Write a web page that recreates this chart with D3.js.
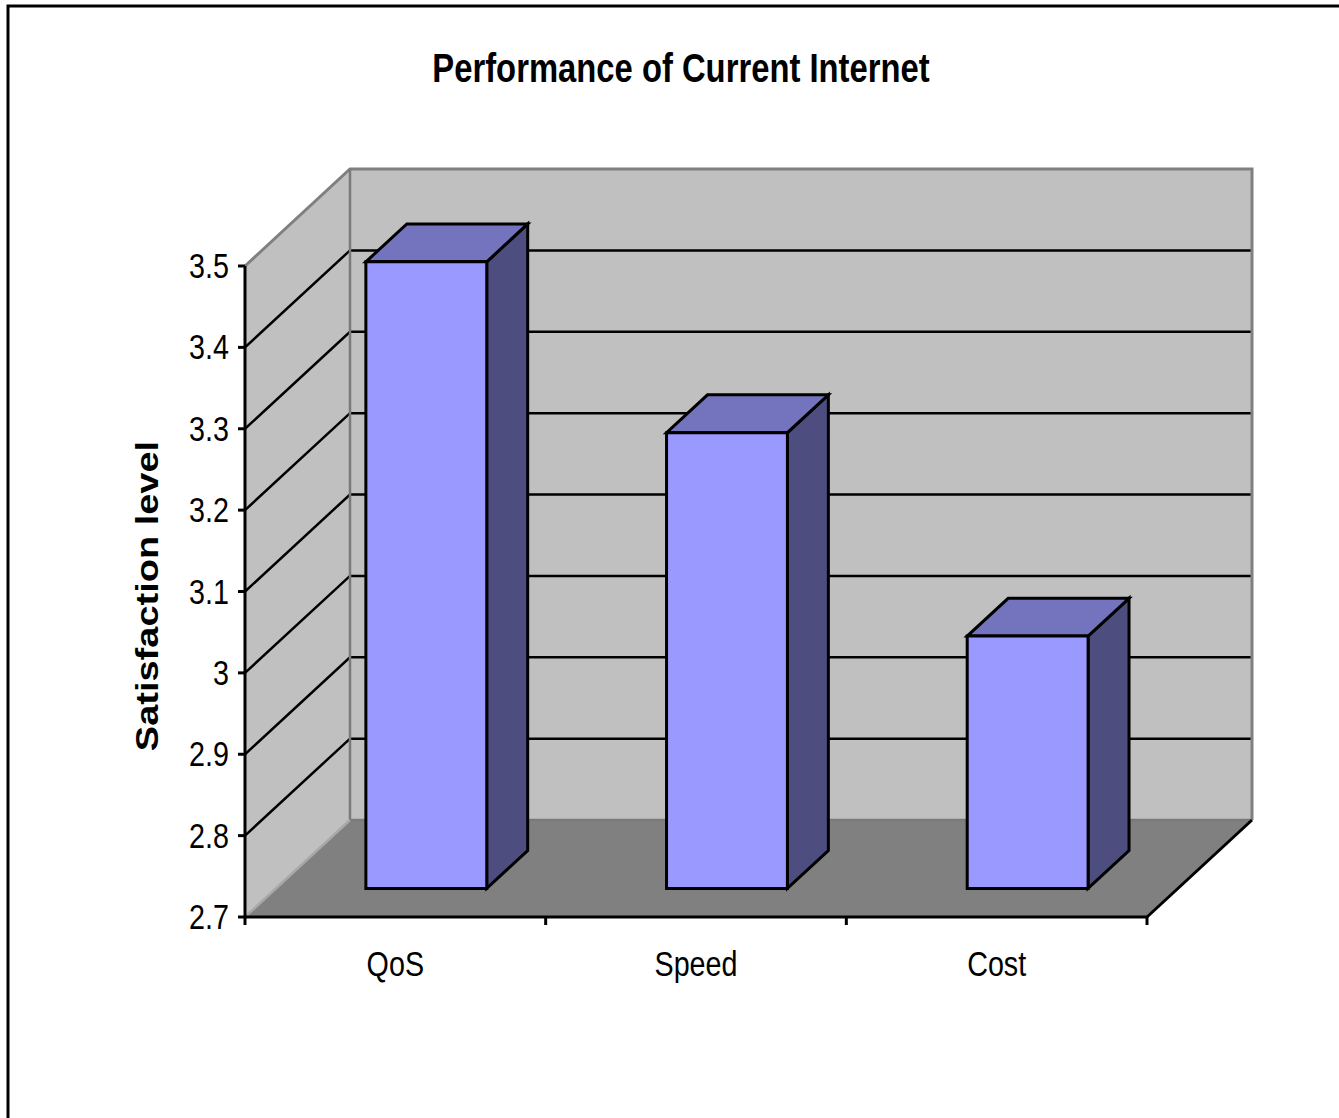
<!DOCTYPE html>
<html>
<head>
<meta charset="utf-8">
<script src="https://cdn.jsdelivr.net/npm/d3@7/dist/d3.min.js"></script>
<style>
  html, body { margin: 0; padding: 0; background: #fff; }
  svg { display: block; }
  text { font-family: "Liberation Sans", Arial, sans-serif; fill: #000; }
</style>
</head>
<body>
<svg id="chart" width="1339" height="1118"></svg>
<script>
// Survey results: mean satisfaction level per aspect of the current Internet
const categories = ["QoS", "Speed", "Cost"];
const values = [3.47, 3.26, 3.01];
const tickValues = [2.7, 2.8, 2.9, 3.0, 3.1, 3.2, 3.3, 3.4, 3.5];
const tickLabels = ["2.7", "2.8", "2.9", "3", "3.1", "3.2", "3.3", "3.4", "3.5"];
const titleText = "Performance of Current Internet";
const yTitleText = "Satisfaction level";

(function () {
  const W = 1339, H = 1118;
  const svg = d3.select("#chart");

  // Horizontal squeeze applied to all text (condensed look)
  const SQ = 0.82;

  // Front plane of the 3-D plot box
  const plotLeft = 245, plotRight = 1147, plotBottom = 917, plotTop = 266;
  // Depth vector of the box (from front plane to back wall)
  const DX = 105, DY = 97;
  // Depth positions of bar front / back faces (fractions of box depth)
  const zFront = 0.295, zBack = 0.685;

  const x = d3.scaleBand().domain(categories).range([plotLeft, plotRight]).paddingInner(0).paddingOuter(0);
  const y = d3.scaleLinear().domain([2.7, 3.5]).range([plotBottom, plotTop]);
  const yMin = y.domain()[0], yMax = y.domain()[1];

  // project a (screen-x on front plane, value, depth) triple to the picture
  const P = (px, v, z) => [px + z * DX, y(v) - z * DY];
  const poly = pts => "M" + pts.map(p => p.join(",")).join("L") + "Z";
  const line = pts => "M" + pts.map(p => p.join(",")).join("L");

  // Outer chart frame
  svg.append("rect")
    .attr("x", 8).attr("y", 6).attr("width", W + 10).attr("height", H + 10)
    .attr("fill", "#fff").attr("stroke", "#000").attr("stroke-width", 3);

  // Title
  svg.append("text")
    .attr("transform", `translate(681,82) scale(${SQ},1)`)
    .attr("text-anchor", "middle")
    .attr("font-weight", "bold")
    .attr("font-size", 40)
    .text(titleText);

  const walls = svg.append("g");

  // Back wall
  walls.append("path")
    .attr("d", poly([P(plotLeft, yMax, 1), P(plotRight, yMax, 1), P(plotRight, yMin, 1), P(plotLeft, yMin, 1)]))
    .attr("fill", "#c0c0c0");
  // Side wall
  walls.append("path")
    .attr("d", poly([P(plotLeft, yMin, 0), P(plotLeft, yMax, 0), P(plotLeft, yMax, 1), P(plotLeft, yMin, 1)]))
    .attr("fill", "#c0c0c0");
  // Floor
  walls.append("path")
    .attr("d", poly([P(plotLeft, yMin, 0), P(plotRight, yMin, 0), P(plotRight, yMin, 1), P(plotLeft, yMin, 1)]))
    .attr("fill", "#808080");

  // Gridlines on side wall and back wall
  const grid = tickValues.filter(v => v > yMin + 1e-9 && v < yMax - 1e-9);
  walls.selectAll("path.grid").data(grid).join("path")
    .attr("class", "grid")
    .attr("d", v => line([P(plotLeft, v, 0), P(plotLeft, v, 1), P(plotRight, v, 1)]))
    .attr("fill", "none").attr("stroke", "#000").attr("stroke-width", 2.5);

  // Wall edges
  walls.append("path")
    .attr("d", line([P(plotLeft, yMax, 0), P(plotLeft, yMax, 1), P(plotRight, yMax, 1), P(plotRight, yMin, 1)]))
    .attr("fill", "none").attr("stroke", "#808080").attr("stroke-width", 3);
  walls.append("path")
    .attr("d", line([P(plotLeft, yMax, 1), P(plotLeft, yMin, 1), P(plotRight, yMin, 1)]))
    .attr("fill", "none").attr("stroke", "#7a7a7a").attr("stroke-width", 2.5);
  walls.append("path")
    .attr("d", line([P(plotLeft, yMin, 0), P(plotLeft, yMin, 1)]))
    .attr("fill", "none").attr("stroke", "#a8a8a8").attr("stroke-width", 2.5);
  walls.append("path")
    .attr("d", line([P(plotRight, yMin, 0), P(plotRight, yMin, 1)]))
    .attr("fill", "none").attr("stroke", "#000").attr("stroke-width", 3);

  // Bars (side, top and front faces)
  const barW = x.bandwidth() * 0.402;
  const bars = svg.append("g").selectAll("g")
    .data(categories.map((c, i) => ({ c, v: values[i] }))).join("g");
  bars.each(function (d) {
    const g = d3.select(this);
    const xl = x(d.c) + (x.bandwidth() - barW) / 2;
    const xr = xl + barW;
    const face = (pts, fill) => g.append("path").attr("d", poly(pts)).attr("fill", fill)
      .attr("stroke", "#000").attr("stroke-width", 3).attr("stroke-linejoin", "miter");
    face([P(xr, d.v, zFront), P(xr, d.v, zBack), P(xr, yMin, zBack), P(xr, yMin, zFront)], "#4d4d80");
    face([P(xl, d.v, zFront), P(xr, d.v, zFront), P(xr, d.v, zBack), P(xl, d.v, zBack)], "#7474be");
    face([P(xl, d.v, zFront), P(xr, d.v, zFront), P(xr, yMin, zFront), P(xl, yMin, zFront)], "#9999ff");
  });

  // Y axis
  const yAxis = svg.append("g");
  yAxis.append("line")
    .attr("x1", plotLeft).attr("x2", plotLeft).attr("y1", y(yMax)).attr("y2", y(yMin))
    .attr("stroke", "#000").attr("stroke-width", 3);
  yAxis.selectAll("line.tick").data(tickValues).join("line")
    .attr("class", "tick")
    .attr("x1", plotLeft - 7).attr("x2", plotLeft).attr("y1", d => y(d)).attr("y2", d => y(d))
    .attr("stroke", "#000").attr("stroke-width", 3);
  yAxis.selectAll("text").data(tickValues).join("text")
    .attr("transform", d => `translate(${plotLeft - 16},${y(d) + 12}) scale(${SQ},1)`)
    .attr("text-anchor", "end")
    .attr("font-size", 35)
    .text((d, i) => tickLabels[i]);

  // X axis (front edge of the floor)
  const xAxis = svg.append("g");
  xAxis.append("line")
    .attr("x1", plotLeft).attr("x2", plotRight).attr("y1", plotBottom).attr("y2", plotBottom)
    .attr("stroke", "#000").attr("stroke-width", 3);
  const bounds = categories.map(c => x(c)).concat([plotRight]);
  xAxis.selectAll("line.tick").data(bounds).join("line")
    .attr("class", "tick")
    .attr("x1", d => d).attr("x2", d => d).attr("y1", plotBottom).attr("y2", plotBottom + 8)
    .attr("stroke", "#000").attr("stroke-width", 3);
  xAxis.selectAll("text").data(categories).join("text")
    .attr("transform", d => `translate(${x(d) + x.bandwidth() / 2},976) scale(${SQ},1)`)
    .attr("text-anchor", "middle")
    .attr("font-size", 35)
    .text(d => d);

  // Y axis title
  svg.append("text")
    .attr("transform", `translate(158,596) scale(${SQ},1) rotate(-90)`)
    .attr("text-anchor", "middle")
    .attr("font-weight", "bold")
    .attr("font-size", 38)
    .text(yTitleText);
})();
</script>
</body>
</html>
